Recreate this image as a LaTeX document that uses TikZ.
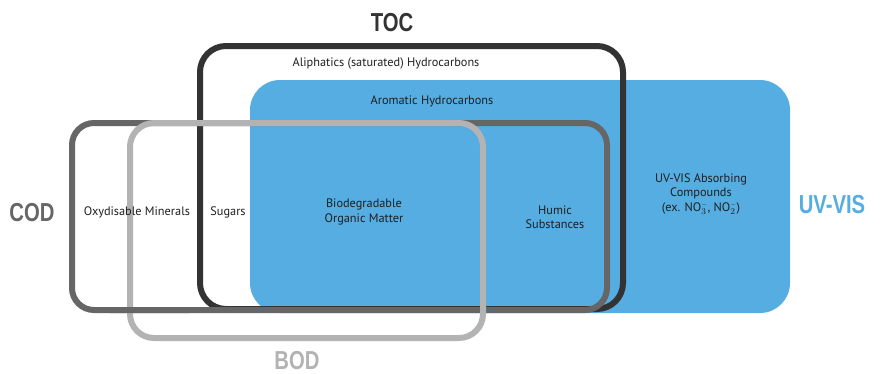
\documentclass[tikz,border=0pt]{standalone}
\usepackage{fontspec}
\setmainfont{PT Sans}
\newfontfamily\headfont[FakeStretch=0.78]{Liberation Sans}
\definecolor{uvblue}{HTML}{55ADE2}
\definecolor{tocgray}{HTML}{333333}
\definecolor{codgray}{HTML}{666666}
\definecolor{bodgray}{HTML}{B3B3B3}
\begin{document}
\begin{tikzpicture}[x=1pt,y=-1pt,
  frame/.style={line width=6pt},
  txt/.style={font=\fontsize{12.3}{14.5}\selectfont, text=black!88, align=center, inner sep=0pt},
  head/.style={font=\headfont\bfseries\fontsize{26}{26}\selectfont, inner sep=0pt, anchor=base}]
\useasboundingbox (0,0) rectangle (884,373);
% UV-VIS region
\fill[uvblue, rounded corners=30pt] (250,80) rectangle (790,313);
% TOC
\draw[frame, tocgray, rounded corners=26pt] (200,46) rectangle (623,309);
% COD
\draw[frame, codgray, rounded corners=22pt] (72,123) rectangle (607,310);
% BOD
\draw[frame, bodgray, rounded corners=24pt] (130,123) rectangle (483,338);
% COD bottom passes over BOD on the left
\begin{scope}
\clip (110,300) rectangle (190,320);
\draw[frame, codgray, rounded corners=22pt] (72,123) rectangle (607,310);
\end{scope}
% headings
\node[head, text=tocgray] (toc) at (392,31.5) {TOC};
\node[head, text=codgray] (cod) at (32,221.5) {COD};
\node[head, text=uvblue] (uvvis) at (832,213.5) {UV-VIS};
\node[head, text=bodgray] (bod) at (297,369) {BOD};
% labels
\node[txt] (ali) at (386,63) {Aliphatics (saturated) Hydrocarbons};
\node[txt] (aro) at (432,101) {Aromatic Hydrocarbons};
\node[txt] (oxy) at (137,212) {Oxydisable Minerals};
\node[txt] (sug) at (228,212) {Sugars};
\node[txt] (bio) at (364,212) {Biodegradable\\Organic Matter};
\node[txt] (hum) at (555,217) {Humic\\Substances};
\node[txt] (uvc) at (701,194) {UV-VIS Absorbing\\Compounds\\(ex. NO$^{\scriptscriptstyle -}_{3}$, NO$^{\scriptscriptstyle -}_{2}$)};
\end{tikzpicture}
\end{document}
